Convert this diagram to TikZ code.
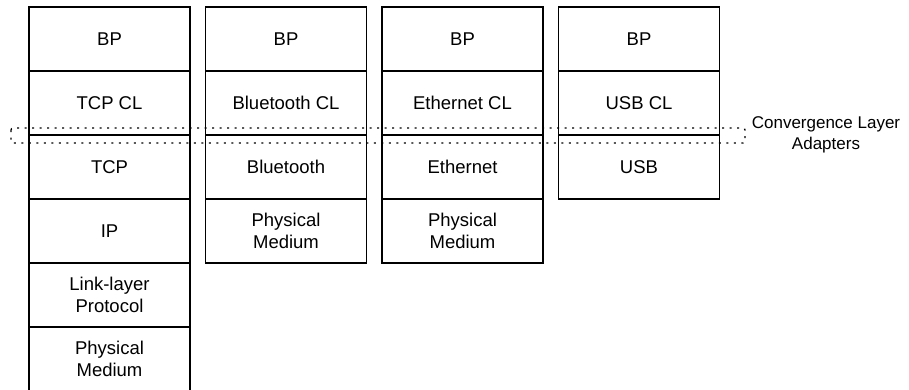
\documentclass[tikz,border=0pt]{standalone}
\usepackage{fontspec}
\setmainfont{Liberation Sans}
\begin{document}
\begin{tikzpicture}[x=1pt,y=-1pt,
  layer/.style={draw=black, line width=1.3pt, minimum width=161pt, minimum height=64pt,
    inner sep=0pt, outer sep=0pt, align=center, anchor=north west,
    font=\fontsize{18.5}{22}\selectfont},
  cla/.style={draw=black, line width=1.3pt, dash pattern=on 2pt off 5.5pt, rounded corners=2pt},
  lbl/.style={align=center, font=\fontsize{17}{20.4}\selectfont, inner sep=0pt}]
\useasboundingbox (0,0) rectangle (909,389);
% column 1
\node[layer] (a1) at (29,7) {BP};
\node[layer] (a2) at (29,71) {TCP CL};
\node[layer] (a3) at (29,135) {TCP};
\node[layer] (a4) at (29,199) {IP};
\node[layer] (a5) at (29,263) {Link-layer\\Protocol};
\node[layer] (a6) at (29,327) {Physical\\Medium};
% column 2
\node[layer] (b1) at (205.5,7) {BP};
\node[layer] (b2) at (205.5,71) {Bluetooth CL};
\node[layer] (b3) at (205.5,135) {Bluetooth};
\node[layer] (b4) at (205.5,199) {Physical\\Medium};
% column 3
\node[layer] (c1) at (382,7) {BP};
\node[layer] (c2) at (382,71) {Ethernet CL};
\node[layer] (c3) at (382,135) {Ethernet};
\node[layer] (c4) at (382,199) {Physical\\Medium};
% column 4
\node[layer] (d1) at (558.5,7) {BP};
\node[layer] (d2) at (558.5,71) {USB CL};
\node[layer] (d3) at (558.5,135) {USB};
% convergence layer adapters
\coordinate (cl1) at (11,128);
\coordinate (cl2) at (745,143);
\draw[cla] (cl1) rectangle (cl2);
\node[lbl] (lab) at (826,135) {Convergence Layer\\Adapters};
\end{tikzpicture}
\end{document}
